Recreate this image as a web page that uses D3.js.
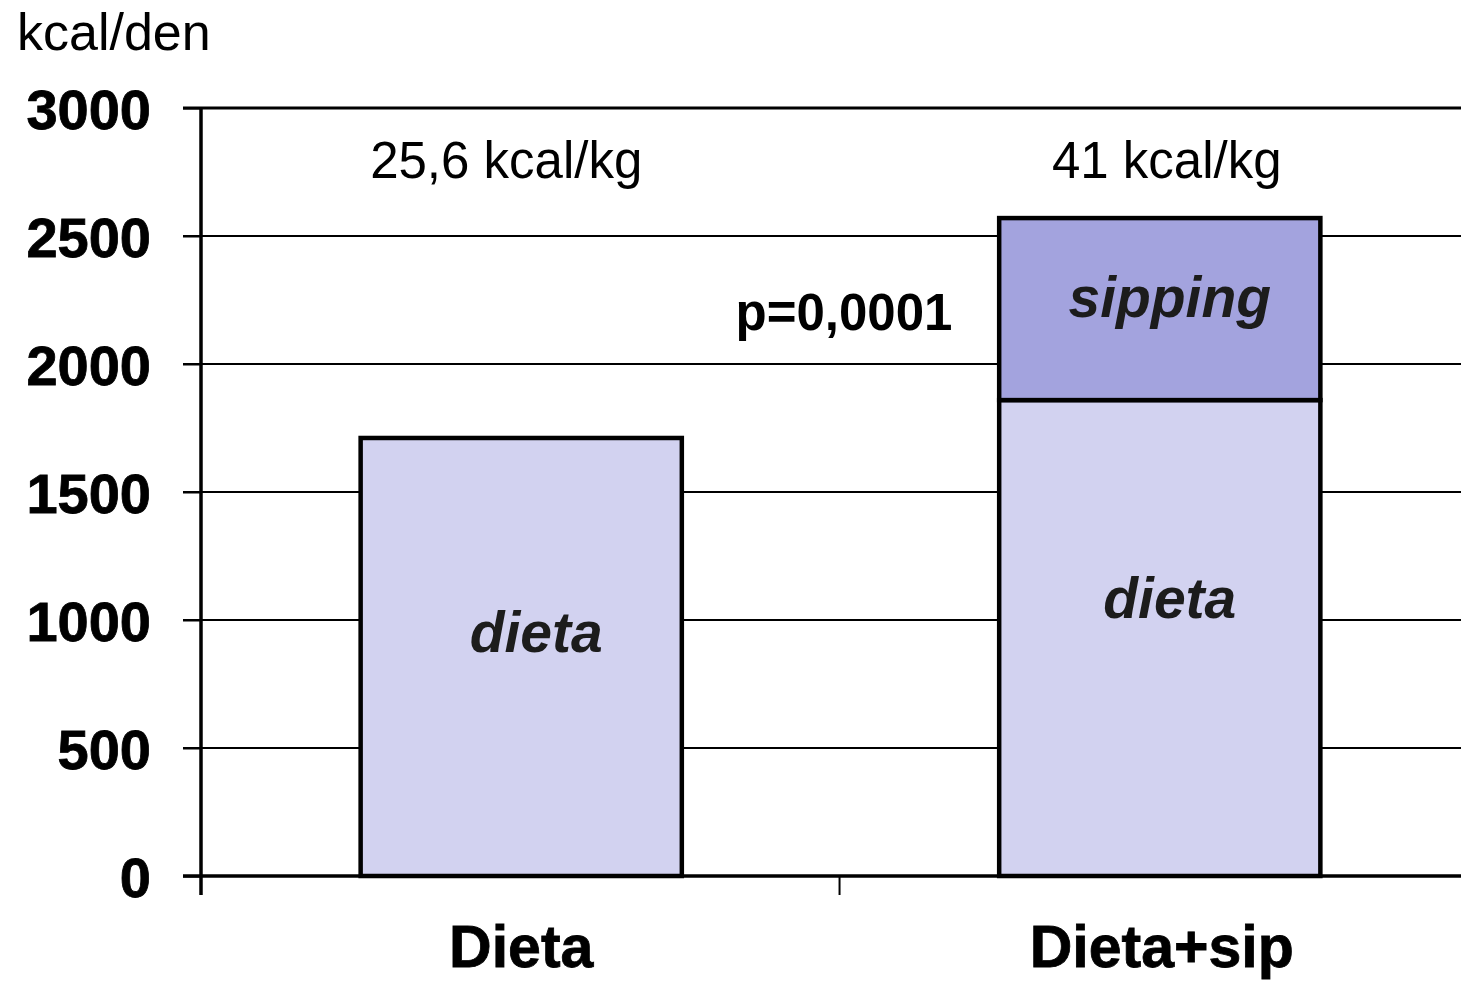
<!DOCTYPE html>
<html>
<head>
<meta charset="utf-8">
<script src="https://cdn.jsdelivr.net/npm/d3@7"></script>
<style>
  body { margin: 0; background: #fff; }
  svg { display: block; }
</style>
</head>
<body>
<script>
// Data
let categories = ["Dieta", "Dieta+sip"];
let dietaValues = [1711, 1859];
let sippingValues = [0, 711];
let perKgLabels = ["25,6 kcal/kg", "41 kcal/kg"];
let yTicks = [0, 500, 1000, 1500, 2000, 2500, 3000];

let w = 1461;
let h = 981;

let xScale = d3.scaleBand()
  .domain(categories)
  .range([201, 1480])
  .paddingInner(0.497)
  .paddingOuter(0.25);

let yScale = d3.scaleLinear()
  .domain([0, 3000])
  .range([876, 108]);

let svg = d3.select("body").append("svg").attr("width", w).attr("height", h);

// Gridlines
svg.selectAll("line.grid")
  .data(yTicks.filter(d => d > 0))
  .enter()
  .append("line")
  .attr("class", "grid")
  .attr("x1", 183)
  .attr("x2", w)
  .attr("y1", d => yScale(d))
  .attr("y2", d => yScale(d))
  .attr("stroke", "#000")
  .attr("stroke-width", d => d === 3000 ? 3 : 2);

// Stacked bars
let stackData = categories.map((c, i) => ({ cat: c, dieta: dietaValues[i], sipping: sippingValues[i] }));
let series = d3.stack().keys(["dieta", "sipping"])(stackData);
let colors = { dieta: "#d2d2f0", sipping: "#a3a3de" };

series.forEach(s => {
  svg.selectAll("rect." + s.key)
    .data(s.filter(d => d[1] > d[0]))
    .enter()
    .append("rect")
    .attr("class", s.key)
    .attr("x", d => xScale(d.data.cat))
    .attr("y", d => yScale(d[1]))
    .attr("width", xScale.bandwidth())
    .attr("height", d => yScale(d[0]) - yScale(d[1]))
    .attr("fill", colors[s.key])
    .attr("stroke", "#000")
    .attr("stroke-width", 4.5);
});

// Y axis
let yAxis = d3.axisLeft(yScale).tickValues(yTicks).tickSize(18).tickPadding(32).tickFormat(d3.format("d"));
let gy = svg.append("g").attr("transform", "translate(201,0)").call(yAxis);
gy.select(".domain").remove();
gy.selectAll(".tick line").attr("stroke", "#000").attr("stroke-width", 2);
gy.selectAll(".tick text")
  .attr("font-family", "'Liberation Sans', Arial, sans-serif")
  .attr("font-weight", "bold")
  .attr("font-size", "56px")
  .attr("fill", "#000")
  .attr("stroke", "#000")
  .attr("stroke-width", 0.8)
  .attr("dy", "0.36em");
svg.append("line")
  .attr("x1", 201).attr("x2", 201)
  .attr("y1", 107).attr("y2", 895)
  .attr("stroke", "#000").attr("stroke-width", 3.5);

// X axis
svg.append("line")
  .attr("x1", 183).attr("x2", w)
  .attr("y1", 876).attr("y2", 876)
  .attr("stroke", "#000").attr("stroke-width", 3.5);
let boundaries = categories.map((c, i) => 201 + i * xScale.step());
svg.selectAll("line.xtick")
  .data(boundaries)
  .enter()
  .append("line")
  .attr("class", "xtick")
  .attr("x1", d => d).attr("x2", d => d)
  .attr("y1", 876).attr("y2", 895)
  .attr("stroke", "#000").attr("stroke-width", 2);

svg.selectAll("text.cat")
  .data(categories)
  .enter()
  .append("text")
  .attr("class", "cat")
  .text(d => d)
  .attr("x", (d, i) => xScale(d) + xScale.bandwidth() / 2 + (i === 0 ? 0 : 2))
  .attr("y", 967)
  .attr("text-anchor", "middle")
  .attr("font-family", "'Liberation Sans', Arial, sans-serif")
  .attr("font-weight", "bold")
  .attr("font-size", "59px")
  .attr("fill", "#000")
  .attr("stroke", "#000")
  .attr("stroke-width", 0.8);

// Unit label
svg.append("text")
  .text("kcal/den")
  .attr("x", 17)
  .attr("y", 50)
  .attr("font-family", "'Liberation Sans', Arial, sans-serif")
  .attr("font-size", "52px")
  .attr("fill", "#000");

// kcal/kg labels
svg.selectAll("text.perkg")
  .data(perKgLabels)
  .enter()
  .append("text")
  .attr("class", "perkg")
  .text(d => d)
  .attr("x", (d, i) => xScale(categories[i]) + xScale.bandwidth() / 2 - (i === 0 ? 15 : -7))
  .attr("y", 178)
  .attr("text-anchor", "middle")
  .attr("font-family", "'Liberation Sans', Arial, sans-serif")
  .attr("font-size", "51px")
  .attr("fill", "#000");

// p value
svg.append("text")
  .text("p=0,0001")
  .attr("x", 844)
  .attr("y", 330)
  .attr("text-anchor", "middle")
  .attr("font-family", "'Liberation Sans', Arial, sans-serif")
  .attr("font-weight", "bold")
  .attr("font-size", "51px")
  .attr("fill", "#000");

// Segment labels
let segLabels = [
  { cat: "Dieta", text: "dieta", v: 875 },
  { cat: "Dieta+sip", text: "dieta", v: 1008 },
  { cat: "Dieta+sip", text: "sipping", v: 2182 }
];
svg.selectAll("text.seg")
  .data(segLabels)
  .enter()
  .append("text")
  .attr("class", "seg")
  .text(d => d.text)
  .attr("x", d => xScale(d.cat) + xScale.bandwidth() / 2 + (d.cat === "Dieta" ? 15 : 10))
  .attr("y", d => yScale(d.v))
  .attr("text-anchor", "middle")
  .attr("font-family", "'Liberation Sans', Arial, sans-serif")
  .attr("font-weight", "bold")
  .attr("font-style", "italic")
  .attr("font-size", "57px")
  .attr("fill", "#1c1c1c");
</script>
</body>
</html>
